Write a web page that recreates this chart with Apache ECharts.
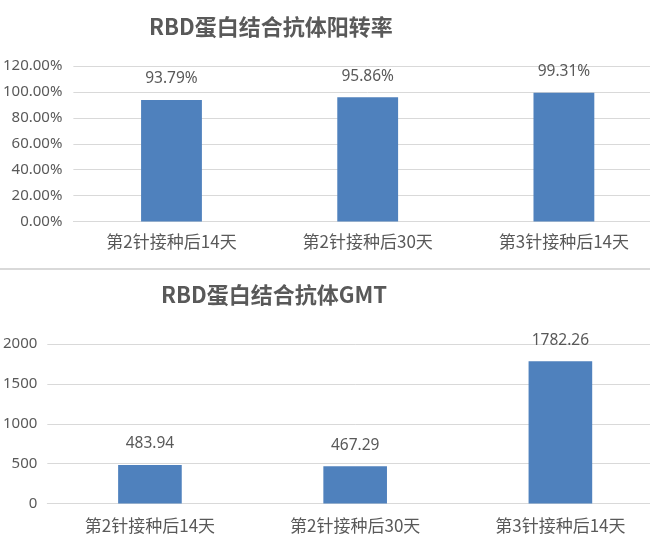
<!DOCTYPE html>
<html><head><meta charset="utf-8">
<script src="https://cdn.jsdelivr.net/npm/echarts@6/dist/echarts.min.js"></script>
<style>html,body{margin:0;padding:0;background:#fff;overflow:hidden;width:650px;height:548px}#c{width:680px;height:548px}</style>
</head><body><div id="c"></div>
<script>
const categories = ['第2针接种后14天', '第2针接种后30天', '第3针接种后14天'];
const positiveRate = [93.79, 95.86, 99.31];
const gmtValues = [483.94, 467.29, 1782.26];
const titleTop = 'RBD蛋白结合抗体阳转率';
const titleBottom = 'RBD蛋白结合抗体GMT';

const grey = '#595959';
const gridGrey = '#D9D9D9';
const barColor = '#4F81BD';
const numFont = 'Noto Sans';
const cjkFont = '"Noto Sans CJK SC", "Noto Sans"';

const chart = echarts.init(document.getElementById('c'), null, {renderer: 'canvas'});
function xAxis(gridIndex, margin) {
  return {
    type: 'category', gridIndex, data: categories,
    axisLine: {lineStyle: {color: gridGrey, width: 1}},
    axisTick: {show: false},
    axisLabel: {color: grey, fontSize: 17, fontFamily: cjkFont, margin}
  };
}
chart.setOption({
  animation: false,
  title: [
    {text: titleTop, left: 144, top: 11, textStyle: {color: grey, fontSize: 22, fontWeight: 'bold', fontFamily: cjkFont}},
    {text: titleBottom, left: 156, top: 279, textStyle: {color: grey, fontSize: 22, fontWeight: 'bold', fontFamily: cjkFont}}
  ],
  grid: [
    {left: 70, top: 66, width: 592, height: 155.5},
    {left: 43, top: 344, width: 620, height: 159.5}
  ],
  xAxis: [xAxis(0, 12), xAxis(1, 14)],
  yAxis: [
    {type: 'value', gridIndex: 0, min: 0, max: 120, interval: 20,
     axisLine: {show: false}, axisTick: {show: false},
     splitLine: {lineStyle: {color: gridGrey, width: 1}},
     axisLabel: {color: grey, fontSize: 15, fontFamily: numFont, margin: 11, formatter: v => v.toFixed(2) + '%'}},
    {type: 'value', gridIndex: 1, min: 0, max: 2000, interval: 500,
     axisLine: {show: false}, axisTick: {show: false},
     splitLine: {lineStyle: {color: gridGrey, width: 1}},
     axisLabel: {color: grey, fontSize: 15, fontFamily: numFont, margin: 10, formatter: v => String(v)}}
  ],
  series: [
    {type: 'bar', xAxisIndex: 0, yAxisIndex: 0, data: positiveRate, barWidth: '31%',
     itemStyle: {color: barColor},
     label: {show: true, position: 'top', distance: 13, color: grey, fontSize: 15.5, fontFamily: numFont,
             formatter: p => p.value.toFixed(2) + '%'}},
    {type: 'bar', xAxisIndex: 1, yAxisIndex: 1, data: gmtValues, barWidth: '31%',
     itemStyle: {color: barColor},
     label: {show: true, position: 'top', distance: 13, color: grey, fontSize: 15.5, fontFamily: numFont,
             formatter: p => p.value.toFixed(2)}}
  ],
  graphic: [
    {type: 'line', shape: {x1: 0, y1: 269, x2: 680, y2: 269}, style: {stroke: gridGrey, lineWidth: 2}}
  ]
});
</script></body></html>
